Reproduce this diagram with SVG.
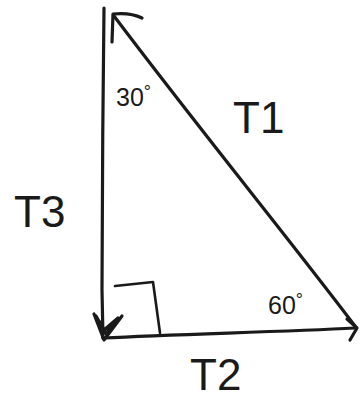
<svg xmlns="http://www.w3.org/2000/svg" width="361" height="402" viewBox="0 0 361 402">
<style>
.ln{fill:none;stroke:#1a1a1a;stroke-width:3.2;stroke-linecap:round;stroke-linejoin:round}
.thin{fill:none;stroke:#1a1a1a;stroke-width:2.6;stroke-linecap:round;stroke-linejoin:round}
.lbl{font-family:"Liberation Sans",Arial,sans-serif;fill:#1a1a1a}
</style>
<rect width="361" height="402" fill="#ffffff"/>
<g id="connectors">
<!-- T3 vertical vector (pointing down) -->
<path class="ln" d="M104,8 C103,100 102,200 102,290 L103,338"/>
<!-- T1 hypotenuse (pointing up-left) -->
<path class="ln" d="M355,326 C290,240 200,130 114,16"/>
<path class="ln" d="M142,18 C132,13 122,13 113,14 L112,42"/>
<!-- T2 horizontal vector (pointing right) -->
<path class="ln" d="M103,338 C180,334 280,332 355,328"/>
<path class="ln" d="M347,319 L357,328 L350,340"/>
<!-- down arrowhead -->
<path class="ln" d="M94,314 L104,340 L122,316 M96,316 L104,330 L118,318 M100,322 L106,334 L114,322" fill="#555"/>
<!-- right-angle marker -->
<path class="thin" d="M115,286 L153,282 L160,333"/>
</g>
<g id="label-30"><text class="lbl" x="116" y="106" font-size="25">30<tspan font-size="18" dy="-8">°</tspan></text></g>
<g id="label-T1"><text class="lbl" x="233" y="133" font-size="44">T1</text></g>
<g id="label-T3"><text class="lbl" x="14" y="227" font-size="44">T3</text></g>
<g id="label-60"><text class="lbl" x="268" y="314" font-size="25">60<tspan font-size="18" dy="-8">°</tspan></text></g>
<g id="label-T2"><text class="lbl" x="190" y="390" font-size="44">T2</text></g>
</svg>
